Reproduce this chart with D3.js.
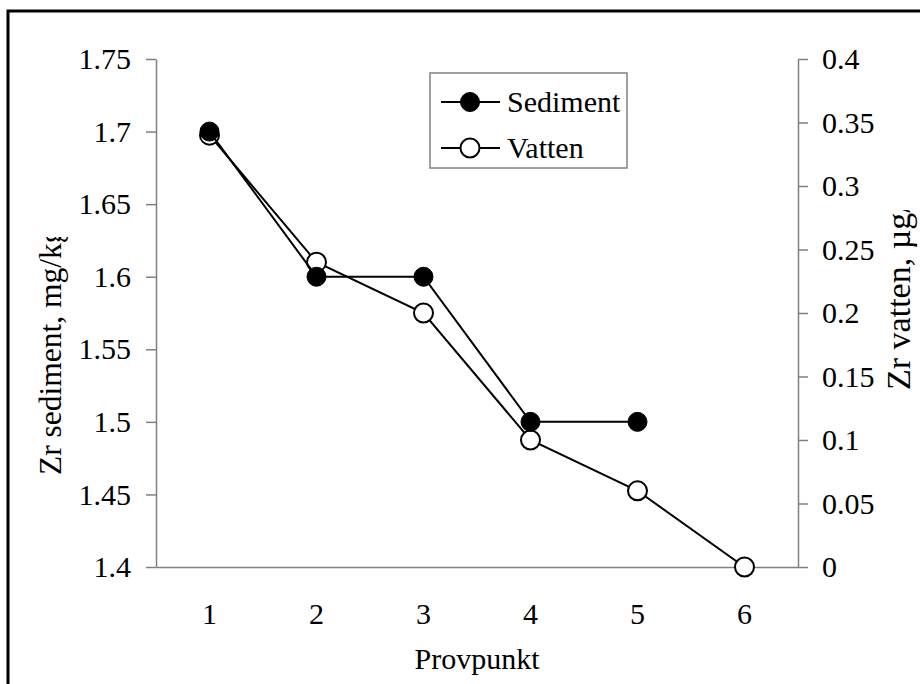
<!DOCTYPE html>
<html><head><meta charset="utf-8">
<script src="https://cdn.jsdelivr.net/npm/d3@7"></script>
<style>body{margin:0;background:#fff}svg{display:block}svg text{font-family:"Liberation Serif","Times New Roman",serif !important;fill:#000}</style>
</head><body><svg id="c" width="920" height="684"></svg>
<script>
const categories = [1, 2, 3, 4, 5, 6];
const sediment = [1.7, 1.6, 1.6, 1.5, 1.5, null];
const vatten = [0.34, 0.24, 0.2, 0.1, 0.06, 0];
const leftTicks = [1.4, 1.45, 1.5, 1.55, 1.6, 1.65, 1.7, 1.75];
const rightTicks = [0, 0.05, 0.1, 0.15, 0.2, 0.25, 0.3, 0.35, 0.4];

const svg = d3.select("#c");
const L = 156, R = 798, T = 59, B = 567;
const FS = 30;
const SERIF = '"Liberation Serif","Times New Roman",serif';

svg.append("rect").attr("x", 8).attr("y", 11).attr("width", 940).attr("height", 700)
  .attr("fill", "none").attr("stroke", "#000").attr("stroke-width", 3);

const x = d3.scaleBand().domain(categories).range([L, R]);
const xc = d => x(d) + x.bandwidth() / 2;
const yL = d3.scaleLinear().domain([1.4, 1.75]).range([B, T]);
const yR = d3.scaleLinear().domain([0, 0.4]).range([B, T]);

const axisStyle = g => {
  g.attr("font-family", SERIF).attr("font-size", FS);
  g.selectAll(".domain").attr("stroke", "#808080").attr("stroke-width", 1.5);
  g.selectAll(".tick line").attr("stroke", "#808080").attr("stroke-width", 1.5);
  g.selectAll("text").style("font-size", FS + "px").style("font-family", SERIF).attr("fill", "#000");
};

svg.append("g").attr("transform", `translate(${L},0)`)
  .call(d3.axisLeft(yL).tickValues(leftTicks).tickFormat(d => String(+d.toFixed(2))).tickSizeInner(10).tickSizeOuter(0).tickPadding(15))
  .call(axisStyle);
svg.append("g").attr("transform", `translate(${R},0)`)
  .call(d3.axisRight(yR).tickValues(rightTicks).tickFormat(d => String(+d.toFixed(2))).tickSizeInner(10).tickSizeOuter(0).tickPadding(14))
  .call(axisStyle);
svg.append("g").attr("transform", `translate(0,${B})`)
  .call(d3.axisBottom(x).tickSize(0).tickPadding(36))
  .call(axisStyle);

svg.append("text").attr("x", (L + R) / 2).attr("y", 669).attr("text-anchor", "middle").style("font-size", FS + "px").text("Provpunkt");

const defs = svg.append("defs");
defs.append("clipPath").attr("id", "clipL").append("rect").attr("x", 0).attr("y", 237).attr("width", 140).attr("height", 400);
defs.append("clipPath").attr("id", "clipR").append("rect").attr("x", 810).attr("y", 210).attr("width", 110).attr("height", 400);

svg.append("g").attr("clip-path", "url(#clipL)").append("text")
  .attr("transform", "translate(61,475) rotate(-90)").attr("text-anchor", "start").style("font-size", "31.5px")
  .text("Zr sediment, mg/kg");
svg.append("g").attr("clip-path", "url(#clipR)").append("text")
  .attr("transform", "translate(910,390) rotate(-90)").attr("text-anchor", "start").style("font-size", "34px")
  .text("Zr vatten, µg/l");

const line = sc => d3.line().defined(d => d.v != null).x(d => xc(d.c)).y(d => sc(d.v));
const vData = categories.map((c, i) => ({c, v: vatten[i]}));
const sData = categories.map((c, i) => ({c, v: sediment[i]}));

svg.append("path").datum(vData).attr("d", line(yR)).attr("fill", "none").attr("stroke", "#000").attr("stroke-width", 2);
svg.selectAll(".mv").data(vData).join("circle").attr("cx", d => xc(d.c)).attr("cy", d => yR(d.v)).attr("r", 9.5)
  .attr("fill", "#fff").attr("stroke", "#000").attr("stroke-width", 2);
svg.append("path").datum(sData).attr("d", line(yL)).attr("fill", "none").attr("stroke", "#000").attr("stroke-width", 2);
svg.selectAll(".ms").data(sData.filter(d => d.v != null)).join("circle").attr("cx", d => xc(d.c)).attr("cy", d => yL(d.v)).attr("r", 9.5)
  .attr("fill", "#000").attr("stroke", "#000").attr("stroke-width", 1);

// legend
const lg = svg.append("g");
lg.append("rect").attr("x", 430).attr("y", 73).attr("width", 197).attr("height", 95).attr("fill", "#fff").attr("stroke", "#808080").attr("stroke-width", 1.5);
const items = [{name: "Sediment", fill: "#000", y: 102}, {name: "Vatten", fill: "#fff", y: 148}];
items.forEach(it => {
  lg.append("line").attr("x1", 441).attr("x2", 500).attr("y1", it.y).attr("y2", it.y).attr("stroke", "#000").attr("stroke-width", 2);
  lg.append("circle").attr("cx", 470).attr("cy", it.y).attr("r", 9.5).attr("fill", it.fill).attr("stroke", "#000").attr("stroke-width", it.fill === "#000" ? 1 : 2);
  lg.append("text").attr("x", 507).attr("y", it.y + 10).style("font-size", FS + "px").text(it.name);
});
</script></body></html>
